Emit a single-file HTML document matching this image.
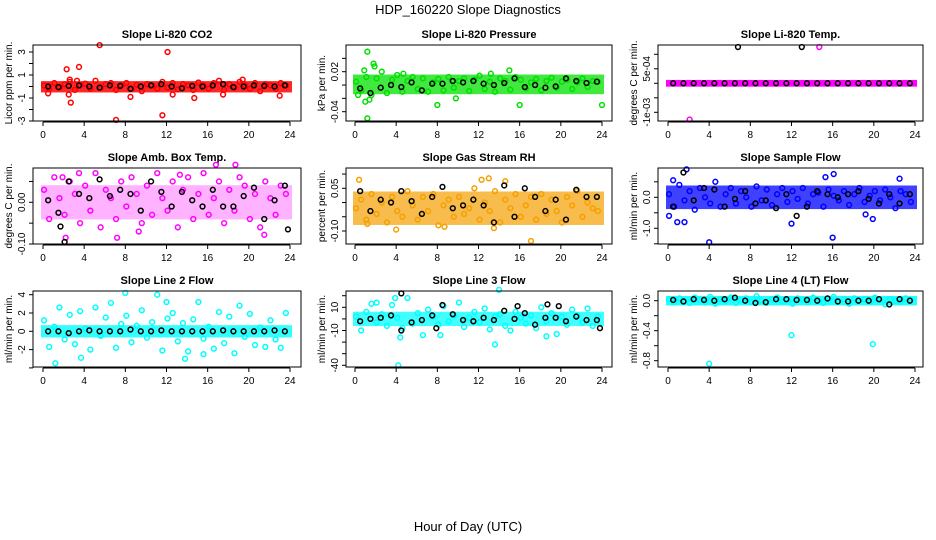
<!DOCTYPE html>
<html><head><meta charset="utf-8"><style>
html,body{margin:0;padding:0;background:#fff;}
svg{display:block;font-family:"Liberation Sans",sans-serif;}
</style></head><body>
<svg id="chart" width="936" height="540" viewBox="0 0 936 540">
<text x="468" y="14" text-anchor="middle" font-size="13">HDP_160220  Slope Diagnostics</text>
<text x="468" y="531" text-anchor="middle" font-size="13">Hour of Day (UTC)</text>
</svg>
<script>
// ---------- data ----------
const hoursColor = [0.1,0.6,1.1,1.6,2.1,2.6,3.1,3.6,4.1,4.6,5.1,5.6,6.1,6.6,7.1,7.6,8.1,8.6,9.1,9.6,10.1,10.6,11.1,11.6,12.1,12.6,13.1,13.6,14.1,14.6,15.1,15.6,16.1,16.6,17.1,17.6,18.1,18.6,19.1,19.6,20.1,20.6,21.1,21.6,22.1,22.6,23.1,23.6];
const hoursBlack = [0.5,1.5,2.5,3.5,4.5,5.5,6.5,7.5,8.5,9.5,10.5,11.5,12.5,13.5,14.5,15.5,16.5,17.5,18.5,19.5,20.5,21.5,22.5,23.5];
const xTicks = [0,4,8,12,16,20,24];

const co2Vals = [0.1,-0.2,0.3,-0.1,0.2,0.4,-0.3,0.1,0.25,-0.2,0.5,-0.1,0.2,0.3,-0.3,0.1,0.3,-0.2,0.15,-0.4,0.2,0.1,-0.2,0.4,-0.1,0.3,-0.25,0.2,0.1,-0.3,0.35,0.1,-0.2,0.3,0.5,-0.3,0.2,-0.1,0.4,0.1,-0.2,0.3,-0.4,0.2,0.1,-0.2,0.3,0.1];
const co2Black = [0,-0.05,0.05,0.1,0,-0.1,0.1,0.05,-0.2,0,0.1,0.2,0,-0.15,0.05,0,0.1,0.2,-0.05,0,0.1,0.05,0,0.1];
const co2Out = [[5.5,3.6],[12.1,3.0],[2.3,1.5],[3.5,1.7],[2.7,-1.4],[7.1,-2.9],[11.6,-2.5],[14.7,-1.0],[8.5,-0.9],[12.6,-0.7],[17.5,-0.7],[23,-0.8],[0.5,-0.6],[2.5,-0.7],[19.4,0.6],[2.6,0.6],[3.3,0.5]];
const co2Band = [-0.3,0.25];

const presVals = [0.005,-0.008,0.012,-0.015,0.01,0.02,-0.012,0.008,0.015,-0.01,0.006,0.012,-0.006,0.01,-0.01,0.004,0.009,-0.008,0.012,-0.004,0.006,0.01,-0.009,0.008,0.014,-0.006,0.005,-0.01,0.01,0.006,-0.007,0.012,0.008,-0.005,0.004,0.009,-0.008,0.006,0.011,-0.004,0.005,0.008,-0.006,0.004,0.01,-0.003,0.006,0.005];
const presBlack = [-0.005,-0.012,-0.004,0,-0.003,0.004,-0.008,0.002,0.002,0.006,0.004,0.006,0.002,0,0.003,0.01,-0.003,0,-0.004,-0.002,0.01,0.006,0.003,0.005];
const presOut = [[1.2,0.05],[1.8,0.032],[1.9,0.028],[0.9,0.022],[1.2,-0.05],[1.0,-0.025],[1.4,-0.022],[8,-0.03],[9.8,-0.02],[16,-0.03],[24,-0.03],[15,0.022],[13.2,0.017],[4.7,0.017],[0.3,-0.015]];
const presBand = [-0.01,0.012];

const tempVals = [0,0,0,0,0,0,0,0,0,0,0,0,0,0,0,0,0,0,0,0,0,0,0,0,0,0,0,0,0,0,0,0,0,0,0,0,0,0,0,0,0,0,0,0,0,0,0,0];
const tempBlack = [0,0,0,0,0,0,0,0,0,0,0,0,0,0,0,0,0,0,0,0,0,0,0,0];
const tempOut = [[2.1,-0.00125],[14.7,0.00125]];
const tempBlackOut = [[6.8,0.00125],[13.0,0.00125]];
const tempBand = [-0.00003,0.00003];

const ambVals = [0.03,-0.04,0.06,0.01,-0.03,0.05,0.02,-0.05,0.04,-0.02,0.07,-0.06,0.03,0.01,-0.04,0.05,-0.01,0.06,0.02,-0.05,0.04,-0.03,0.07,0.01,-0.02,0.05,-0.06,0.03,0.06,-0.04,0.02,0.07,-0.03,0.01,0.05,-0.05,0.03,-0.02,0.06,0.04,-0.04,0.02,-0.06,0.05,0.01,-0.03,0.04,0.02];
const ambBlack = [0.005,-0.025,0.05,0.02,0.01,0.055,0.015,0.03,0.02,-0.02,0.05,0.025,-0.01,0.025,0.005,-0.01,0.03,-0.01,-0.01,0.015,0.035,-0.04,0.005,0.04];
const ambOut = [[2.2,-0.085],[16.8,0.09],[18.7,0.09],[3.5,0.07],[7.2,-0.085],[9.3,-0.07],[21.5,-0.078],[1.9,0.06],[13.3,0.066]];
const ambBlackOut = [[2.1,-0.095],[23.8,-0.065],[1.7,-0.058]];
const ambBand = [-0.035,0.035];

const rhVals = [-0.02,0.01,-0.06,0.03,-0.04,0.0,-0.07,0.02,-0.03,-0.05,0.04,-0.01,-0.06,0.02,-0.03,0.03,-0.08,-0.01,0.01,-0.05,0.02,-0.04,-0.02,0.05,-0.06,0.0,-0.03,0.04,-0.07,0.01,-0.02,0.03,-0.05,-0.01,0.02,-0.06,0.03,-0.04,0.01,-0.03,-0.07,0.02,-0.01,0.04,-0.05,0.0,-0.02,-0.03];
const rhBlack = [0.04,-0.03,0.01,0.0,0.04,0.005,-0.04,0.02,0.055,-0.02,-0.01,0.01,-0.01,-0.07,0.06,-0.05,0.05,0.02,-0.03,0.01,-0.06,0.045,0.02,0.02];
const rhOut = [[17.1,-0.135],[13.5,-0.09],[4,-0.095],[0.4,0.08],[12.3,0.08],[13,0.085],[14.6,0.075],[1.2,-0.075],[8.7,-0.085]];
const rhBand = [-0.07,0.03];

const flowVals = [0.1,-0.3,0.4,-0.1,0.2,-0.4,0.3,0.0,-0.2,0.5,-0.3,0.1,0.3,-0.2,0.2,0.0,-0.3,0.35,-0.1,0.25,-0.25,0.1,0.3,-0.15,0.2,-0.05,0.3,-0.2,0.1,0.15,-0.3,0.25,0.05,-0.1,0.2,-0.25,0.1,0.3,-0.15,0.05,0.2,-0.1,0.25,0.0,-0.35,0.2,0.1,-0.15];
const flowBlack = [-0.3,0.8,-0.1,0.3,0.25,-0.3,-0.05,0.2,-0.2,-0.1,-0.35,0.1,-0.6,-0.3,0.2,0.1,0.0,0.1,0.2,-0.05,-0.2,0.1,-0.2,0.1];
const flowOut = [[4,-1.45],[16,-1.3],[12,-0.85],[0.9,-0.8],[1.6,-0.8],[19.9,-0.7],[0.1,-0.6],[1.8,0.9],[16.1,0.75],[15.3,0.65],[22.5,0.6],[0.5,0.55],[19.2,-0.55]];
const flowBand = [-0.3,0.3];

const l2Vals = [1.2,-1.7,0.5,2.6,-0.9,1.8,-1.4,2.2,0.3,-2.0,2.6,-0.5,1.5,3.1,-1.8,0.8,1.7,-1.2,0.6,2.3,-0.7,1.0,4.0,-2.1,1.4,2.0,-1.1,0.9,-2.2,1.3,3.2,-0.8,0.5,-1.9,2.1,-1.3,1.6,-2.4,2.8,-0.6,1.9,-1.5,0.4,-1.7,1.2,-0.9,-1.8,2.0];
const l2Black = [0,0,-0.2,0,0.1,0,0,0,0.2,0,0,0.1,0,0,0,0,0,0.1,0,0,0,0,0.1,0];
const l2Out = [[1.2,-3.5],[8,4.2],[13.8,-3],[3.7,-2.9],[15.6,-2.5],[12,3.2]];
const l2Band = [-0.4,0.4];

const l3Vals = [2,-10,6,13,-3,4,-6,12,1,-8,18,-4,5,-14,8,2,-5,11,-2,3,14,-7,1,6,-3,9,-9,2,4,-6,-10,6,1,-4,3,-8,10,-2,5,-13,2,-5,8,3,-3,9,-6,2];
const l3Black = [-2,0,1,3,-10,-3,-1,3,12,4,-1,-2,1,-1,7,0,5,-5,1,1,-2,2,-1,-1];
const l3Out = [[14,25],[4.2,-40],[13.6,-22],[4.4,-16],[8.3,-14],[18.6,-15],[3.9,18],[2.1,14]];
const l3BlackOut = [[4.5,22],[15.8,11],[18.7,12.5],[19.8,11],[23.8,-8],[7.9,-8]];
const l3Band = [-4,4];

const l4Vals = [0.02,-0.02,0.03,0.0,-0.03,0.04,0.01,-0.02,0.05,-0.04,0.02,0.0,0.04,-0.03,0.01,0.03,-0.02,0.06,0.0,-0.03,0.02,0.04,-0.01,0.02,-0.04,0.03,0.01,-0.02,0.04,0.0,-0.03,0.02,0.05,-0.01,0.02,-0.04,0.03,0.0,0.02,-0.02,0.04,0.01,-0.05,0.02,0.0,-0.02,0.03,0.01];
const l4Black = [0.01,-0.01,0.02,0.01,0.0,0.02,0.04,0.0,-0.03,-0.02,0.02,0.02,0.01,0.01,0.0,0.03,-0.01,-0.01,0.0,0.0,0.02,-0.05,0.02,0.0];
const l4Out = [[4,-0.84],[12,-0.46],[19.9,-0.58]];
const l4Band = [-0.03,0.03];

// ---------- layout ----------
const cols = [{bl:33,br:301,x0:43,x24:290},{bl:346,br:612,x0:355,x24:602},{bl:658,br:923,x0:668,x24:915}];
const rows = [{bt:45,bb:121},{bt:168,bb:244},{bt:291,bb:367}];
const panels = [
 {name:'co2',title:'Slope Li-820 CO2',ylab:'Licor ppm per min.',col:0,row:0,color:'#ff0000',op:0.85,v1:3,p1:52,v2:-3,p2:121,ticks:[-3,-2,-1,0,1,2,3],labels:[[3,'3'],[1,'1'],[-1,'-1'],[-3,'-3']],vals:co2Vals,black:co2Black,out:co2Out,bout:[],band:co2Band},
 {name:'pressure',title:'Slope Li-820 Pressure',ylab:'kPa per min.',col:1,row:0,color:'#00e000',op:0.75,v1:0.02,p1:71.7,v2:-0.04,p2:111.7,ticks:[0.04,0.02,0,-0.02,-0.04],labels:[[0.02,'0.02'],[-0.04,'-0.04']],vals:presVals,black:presBlack,out:presOut,bout:[],band:presBand},
 {name:'temp',title:'Slope Li-820 Temp.',ylab:'degrees C per min.',col:2,row:0,color:'#ff00ff',op:1,v1:0.001,p1:54.3,v2:0,p2:83.3,ticks:[0.001,0.0005,0,-0.0005,-0.001],labels:[[0.0005,'5e-04'],[-0.001,'-1e-03']],vals:tempVals,black:tempBlack,out:tempOut,bout:tempBlackOut,band:tempBand},
 {name:'amb-box-temp',title:'Slope Amb. Box Temp.',ylab:'degrees C per min.',col:0,row:1,color:'#ff00ff',op:0.3,v1:0,p1:202.3,v2:-0.1,p2:244,ticks:[0.05,0,-0.05,-0.1],labels:[[0,'0.00'],[-0.1,'-0.10']],vals:ambVals,black:ambBlack,out:ambOut,bout:ambBlackOut,band:ambBand},
 {name:'gas-stream-rh',title:'Slope Gas Stream RH',ylab:'percent per min.',col:1,row:1,color:'#f5a000',op:0.7,v1:0.05,p1:188.3,v2:-0.1,p2:231,ticks:[0.1,0.05,0,-0.05,-0.1],labels:[[0.05,'0.05'],[-0.1,'-0.10']],vals:rhVals,black:rhBlack,out:rhOut,bout:[],band:rhBand},
 {name:'sample-flow',title:'Slope Sample Flow',ylab:'ml/min per min.',col:2,row:1,color:'#0000ff',op:0.75,v1:0,p1:197.3,v2:-1,p2:228.3,ticks:[0.5,0,-0.5,-1,-1.5],labels:[[0,'0.0'],[-1,'-1.0']],vals:flowVals,black:flowBlack,out:flowOut,bout:[],band:flowBand},
 {name:'line2-flow',title:'Slope Line 2 Flow',ylab:'ml/min per min.',col:0,row:2,color:'#00ffff',op:0.8,v1:0,p1:331.3,v2:2,p2:313,ticks:[4,2,0,-2,-4],labels:[[4,'4'],[2,'2'],[0,'0'],[-2,'-2']],vals:l2Vals,black:l2Black,out:l2Out,bout:[],band:l2Band},
 {name:'line3-flow',title:'Slope Line 3 Flow',ylab:'ml/min per min.',col:1,row:2,color:'#00ffff',op:0.75,v1:10,p1:307.3,v2:-40,p2:365.3,ticks:[20,10,0,-10,-20,-30,-40],labels:[[10,'10'],[-10,'-10'],[-40,'-40']],vals:l3Vals,black:l3Black,out:l3Out,bout:l3BlackOut,band:l3Band},
 {name:'line4-flow',title:'Slope Line 4 (LT) Flow',ylab:'ml/min per min.',col:2,row:2,color:'#00ffff',op:0.85,v1:0,p1:300.7,v2:-0.8,p2:360.7,ticks:[0,-0.2,-0.4,-0.6,-0.8],labels:[[0,'0.0'],[-0.4,'-0.4'],[-0.8,'-0.8']],vals:l4Vals,black:l4Black,out:l4Out,bout:[],band:l4Band}
];

const svg = document.getElementById('chart');
const NS = 'http://www.w3.org/2000/svg';
function mk(tag, attrs, parent){
  const e = document.createElementNS(NS, tag);
  for (const k in attrs) e.setAttribute(k, attrs[k]);
  (parent||svg).appendChild(e);
  return e;
}

panels.forEach(p => {
  const c = cols[p.col], r = rows[p.row];
  const xs = h => c.x0 + (c.x24 - c.x0) * h / 24;
  const ys = v => p.p1 + (v - p.v1) * (p.p2 - p.p1) / (p.v2 - p.v1);
  const g = mk('g', {});
  
  

  const t = mk('text', {x:(c.bl+c.br)/2, y:r.bt-7, 'text-anchor':'middle','font-size':'11','font-weight':'bold'}, g);
  t.textContent = p.title;
  
  

  const bandTop = ys(p.band[1]), bandBot = ys(p.band[0]);
  const band = mk('rect', {x:xs(0)-2, y:Math.min(bandTop,bandBot)-2.5, width:xs(24)-xs(0)+4, height:Math.abs(bandBot-bandTop)+5, fill:p.color, 'fill-opacity':p.op}, g);
  
  

  const pt = (h, v, col, nm) => {
    const ci = mk('circle', {cx:xs(h), cy:ys(v), r:2.4, fill:'none', stroke:col, 'stroke-width':1.5}, g);
    
    
  };
  p.vals.forEach((v,i) => pt(hoursColor[i], v, p.color, 'point'));
  p.out.forEach(o => pt(o[0], o[1], p.color, 'outlier-point'));
  p.black.forEach((v,i) => pt(hoursBlack[i], v, '#000', 'hourly-point'));
  p.bout.forEach(o => pt(o[0], o[1], '#000', 'hourly-outlier-point'));

  const box = mk('rect', {x:c.bl, y:r.bt, width:c.br-c.bl, height:r.bb-r.bt, fill:'none', stroke:'#000', 'stroke-width':1}, g);
  
  

  mk('line', {x1:xs(0), x2:xs(24), y1:r.bb+1, y2:r.bb+1, stroke:'#000'}, g);
  xTicks.forEach(h => {
    mk('line', {x1:xs(h), x2:xs(h), y1:r.bb+1, y2:r.bb+5, stroke:'#000'}, g);
    const tl = mk('text', {x:xs(h), y:r.bb+17, 'text-anchor':'middle','font-size':'10'}, g);
    tl.textContent = h;
    
    
  });
  const yt = p.ticks.map(ys);
  mk('line', {x1:c.bl, x2:c.bl, y1:Math.min(...yt), y2:Math.max(...yt), stroke:'#000'}, g);
  p.ticks.forEach(v => mk('line', {x1:c.bl-4, x2:c.bl, y1:ys(v), y2:ys(v), stroke:'#000'}, g));
  p.labels.forEach(l => {
    const x = c.bl - 8, y = ys(l[0]);
    const tl = mk('text', {x:x, y:y, 'text-anchor':'middle','font-size':'10', transform:`rotate(-90 ${x} ${y})`}, g);
    tl.textContent = l[1];
    
    
  });
  const lx = c.bl - 21, ly = (r.bt + r.bb) / 2;
  const yl = mk('text', {x:lx, y:ly, 'text-anchor':'middle','font-size':'10', transform:`rotate(-90 ${lx} ${ly})`}, g);
  yl.textContent = p.ylab;
  
  
});
</script>
</body></html>
